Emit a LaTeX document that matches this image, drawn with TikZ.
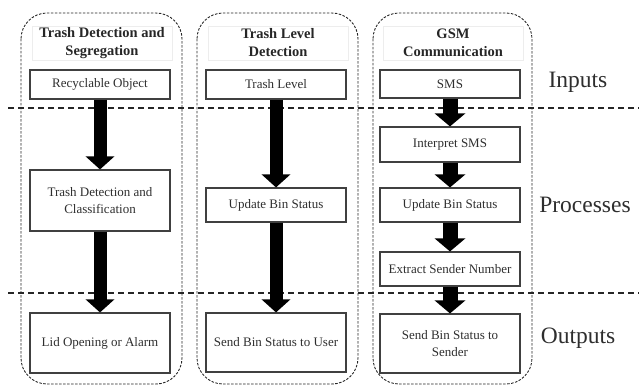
\documentclass[tikz,border=0pt]{standalone}
\usepackage{fontspec}
\setmainfont{Liberation Serif}
\usetikzlibrary{arrows.meta}
\definecolor{boxline}{HTML}{404040}
\definecolor{boxtext}{HTML}{2E2E2E}
\tikzset{
  lane/.style={draw=black!85, line width=0.9pt, dash pattern=on 2.5pt off 1.5pt, rounded corners=26pt},
  divider/.style={draw=black!85, line width=1.2pt, dash pattern=on 6pt off 4pt},
  titlebox/.style={draw=black!7, minimum width=140pt, minimum height=34pt, inner sep=0pt, align=center, text=black!85, font=\bfseries\fontsize{14.5}{18}\selectfont},
  box/.style={draw=boxline, line width=1.1pt, minimum width=140pt, inner sep=0pt, align=center, text=boxtext, font=\fontsize{13}{16.5}\selectfont},
  flow/.style={draw=black, line width=13pt, -{Triangle[width=28pt,length=13pt]}},
  stage/.style={text=boxtext, font=\fontsize{23.5}{26}\selectfont}
}
\begin{document}
\begin{tikzpicture}[x=1pt,y=-1pt]
\useasboundingbox (0,0) rectangle (639,385);
\draw[lane] (21,13) rectangle (182,384);
\draw[lane] (197,13) rectangle (358,384);
\draw[lane] (373,13) rectangle (532,384);
\draw[divider] (8,108) -- (639,108);
\draw[divider] (8,293) -- (639,293);
\node[titlebox] (t1) at (102,43) {Trash Detection and\\Segregation};
\node[titlebox] (t2) at (278,43) {Trash Level\\Detection};
\node[titlebox] (t3) at (453,43) {GSM\\Communication};
\node[box, minimum height=29pt] (in1) at (100,84.5) {Recyclable Object};
\node[box, minimum height=61pt] (p1) at (100,200.5) {Trash Detection and\\Classification};
\node[box, minimum height=60pt] (o1) at (100,343) {Lid Opening or Alarm};
\node[box, minimum height=29pt] (in2) at (276,84.5) {Trash Level};
\node[box, minimum height=34pt] (p2) at (276,205) {Update Bin Status};
\node[box, minimum height=59pt] (o2) at (276,342.5) {Send Bin Status to User};
\node[box, minimum height=28pt] (in3) at (450,84) {SMS};
\node[box, minimum height=35pt] (p3a) at (450,144.5) {Interpret SMS};
\node[box, minimum height=34pt] (p3b) at (450,205) {Update Bin Status};
\node[box, minimum height=34pt] (p3c) at (450,269) {Extract Sender Number};
\node[box, minimum height=59pt] (o3) at (450,343.5) {Send Bin Status to\\Sender};
\draw[flow] (in1) -- (p1);
\draw[flow] (p1) -- (o1);
\draw[flow] (in2) -- (p2);
\draw[flow] (p2) -- (o2);
\draw[flow, line width=15pt, -{Triangle[width=30pt,length=13pt]}] (in3) -- (p3a);
\draw[flow, line width=15pt, -{Triangle[width=30pt,length=13pt]}] (p3a) -- (p3b);
\draw[flow, line width=15pt, -{Triangle[width=30pt,length=13pt]}] (p3b) -- (p3c);
\draw[flow, line width=15pt, -{Triangle[width=30pt,length=13pt]}] (p3c) -- (o3);
\node[stage] (inputs) at (578,82) {Inputs};
\node[stage] (processes) at (585,205) {Processes};
\node[stage] (outputs) at (578,338) {Outputs};
\end{tikzpicture}
\end{document}
